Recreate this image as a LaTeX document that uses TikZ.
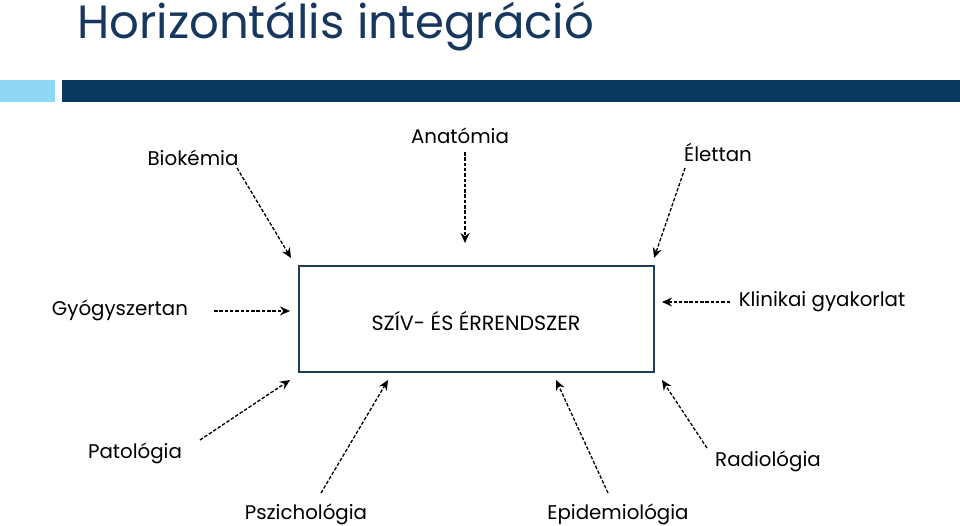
\documentclass[tikz,border=0pt]{standalone}
\usepackage{fontspec}
\setmainfont{Poppins}
\usetikzlibrary{arrows.meta,calc}
\definecolor{titleblue}{HTML}{17375E}
\definecolor{barblue}{HTML}{0B3861}
\definecolor{lightblue}{HTML}{8FD7F7}
\definecolor{boxblue}{HTML}{1F3E5E}
\tikzset{
  lbl/.style={font=\fontsize{19.8}{22}\selectfont, inner sep=0pt, anchor=center},
  link/.style={line width=1.3pt, -{Stealth[length=10pt,width=9pt]}, dash pattern=on 3.5pt off 1.8pt},
}
\begin{document}
\begin{tikzpicture}[x=1pt,y=-1pt]
\useasboundingbox (0,0) rectangle (960,525);
% header
\node[anchor=base west, inner sep=0pt, text=titleblue, font=\fontsize{46.6}{50}\selectfont] (title) at (77,38) {Horizontális integráció};
\fill[lightblue] (0,80) rectangle (55,102);
\fill[barblue] (62,80) rectangle (960,102);
% central box
\node[draw=boxblue, line width=1.8pt, minimum width=355pt, minimum height=106pt, inner sep=0pt] (box) at (476.5,319) {};
\node[lbl, font=\fontsize{20.6}{22}\selectfont] (boxtext) at (476,321) {SZÍV- ÉS ÉRRENDSZER};
% labels
\node[lbl] (bio) at (193,158) {Biokémia};
\node[lbl] (ana) at (460,136) {Anatómia};
\node[lbl] (ele) at (718,152) {Élettan};
\node[lbl] (gyo) at (120,310) {Gyógyszertan};
\node[lbl] (kli) at (822,302) {Klinikai gyakorlat};
\node[lbl] (pat) at (135,453) {Patológia};
\node[lbl] (psz) at (306,514) {Pszichológia};
\node[lbl] (epi) at (618,514) {Epidemiológia};
\node[lbl] (rad) at (768,461) {Radiológia};
% arrow end points
\coordinate (bioS) at (237,168); \coordinate (bioE) at (291,258);
\coordinate (anaS) at (465,152); \coordinate (anaE) at (465,243);
\coordinate (eleS) at (685,168); \coordinate (eleE) at (654,258);
\coordinate (gyoS) at (214,311); \coordinate (gyoE) at (290,311);
\coordinate (kliS) at (730,302); \coordinate (kliE) at (662,302);
\coordinate (patS) at (200,440); \coordinate (patE) at (290,380);
\coordinate (pszS) at (321,493); \coordinate (pszE) at (388,380);
\coordinate (epiS) at (608,493); \coordinate (epiE) at (556,380);
\coordinate (radS) at (707,448); \coordinate (radE) at (662,380);
\foreach \n in {bio,ana,ele,gyo,kli,pat,psz,epi,rad}
  \draw[link] (\n S) -- (\n E);
\end{tikzpicture}
\end{document}
